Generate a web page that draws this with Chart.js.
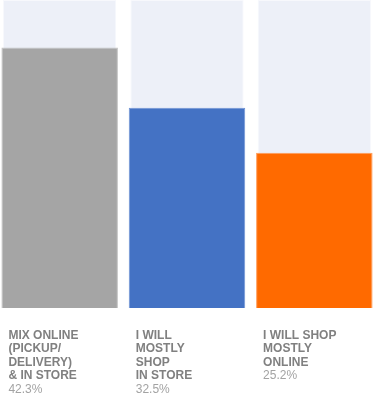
<!DOCTYPE html>
<html>
<head>
<meta charset="utf-8">
<script src="https://cdn.jsdelivr.net/npm/chart.js@4"></script>
<style>
  html, body { margin: 0; padding: 0; background: #fff; overflow: hidden; }
  #wrap { position: absolute; left: -4px; top: 0; width: 382px; height: 403px; }
</style>
</head>
<body>
<div id="wrap"><canvas id="miGrafico"></canvas></div>
<script>
const categorias = [
    ['MIX ONLINE', '(PICKUP/', 'DELIVERY)', '& IN STORE'],
    ['I WILL', 'MOSTLY', 'SHOP', 'IN STORE'],
    ['I WILL SHOP', 'MOSTLY', 'ONLINE']
];
const valores = [42.3, 32.5, 25.2];
const fondo = [50, 50, 50];
const colores = ['#a5a5a5', '#4472c4', '#ff6a00'];
const bordes = ['#c2c2c2', '#6f93d4', '#ff9c5a'];

const ctx = document.getElementById('miGrafico').getContext('2d');

const etiquetas = {
    id: 'etiquetas',
    afterDraw(chart) {
        const c = chart.ctx;
        const meta = chart.getDatasetMeta(1);
        c.save();
        c.textBaseline = 'alphabetic';
        c.textAlign = 'left';
        meta.data.forEach((bar, i) => {
            const x = bar.x - bar.width / 2 + 7;
            let y = 338.5;
            c.font = 'bold 12px "Liberation Sans", Arial, sans-serif';
            c.fillStyle = '#808080';
            categorias[i].forEach(linea => {
                c.fillText(linea, x, y);
                y += 13.6;
            });
            c.font = '12px "Liberation Sans", Arial, sans-serif';
            c.fillStyle = '#a3a3a3';
            c.fillText(valores[i].toFixed(1) + '%', x, y);
        });
        c.restore();
    }
};

const miGrafico = new Chart(ctx, {
    type: 'bar',
    data: {
        labels: categorias.map(l => l.join(' ')),
        datasets: [{
            data: fondo,
            backgroundColor: '#edf0f8',
            borderColor: '#f7f8fc',
            borderWidth: 1,
            barPercentage: 0.89,
            categoryPercentage: 1,
            grouped: false,
            order: 2
        }, {
            data: valores,
            backgroundColor: colores,
            borderColor: bordes,
            borderWidth: 1,
            barPercentage: 0.915,
            categoryPercentage: 1,
            grouped: false,
            order: 1
        }]
    },
    options: {
        responsive: true,
        maintainAspectRatio: false,
        animation: false,
        layout: { padding: { top: 0, left: 0, right: 0, bottom: 95 } },
        plugins: {
            legend: { display: false },
            tooltip: { enabled: false }
        },
        scales: {
            x: { display: false },
            y: { display: false, min: 0, max: 50 }
        }
    },
    plugins: [etiquetas]
});
</script>
</body>
</html>
